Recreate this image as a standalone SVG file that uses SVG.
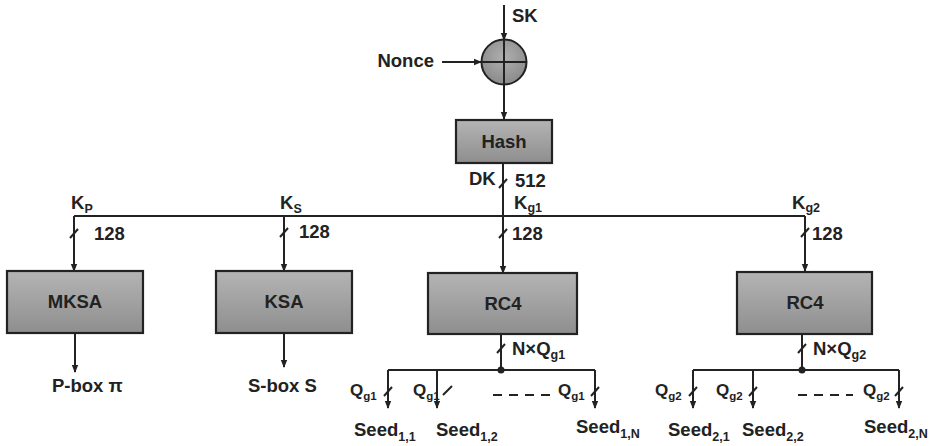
<svg xmlns="http://www.w3.org/2000/svg" width="936" height="446" viewBox="0 0 936 446">
<defs>
<linearGradient id="g" x1="0" y1="0" x2="0" y2="1">
<stop offset="0" stop-color="#b4b4b4"/>
<stop offset="1" stop-color="#8e8e8e"/>
</linearGradient>
<radialGradient id="cg" cx="0.5" cy="0.4" r="0.6">
<stop offset="0" stop-color="#b0b0b0"/>
<stop offset="1" stop-color="#8a8a8a"/>
</radialGradient>
<marker id="ah" markerWidth="8" markerHeight="8" refX="7" refY="4" orient="auto" markerUnits="userSpaceOnUse">
<path d="M0,0.8 L8,4 L0,7.2 Z" fill="#222"/>
</marker>
</defs>
<style>
.box{fill:url(#g);stroke:#222;stroke-width:2.2}
.ln{stroke:#222;stroke-width:2;fill:none}
.ar{stroke:#222;stroke-width:2;fill:none;marker-end:url(#ah)}
.sl{stroke:#222;stroke-width:2;fill:none}
.t{font-family:"Liberation Sans",Arial,sans-serif;font-weight:bold;font-size:18.5px;fill:#222}
.bt{font-family:"Liberation Sans",Arial,sans-serif;font-weight:bold;font-size:18.5px;fill:#222;text-anchor:middle}
.q{font-family:"Liberation Sans",Arial,sans-serif;font-weight:bold;font-size:17px;fill:#222}
.sub{font-size:11.5px}
.subs{font-size:12.5px}
</style>
<rect width="936" height="446" fill="#fff"/>

<g id="connectors">
<line class="ar" x1="504" y1="5" x2="504" y2="40"/>
<line class="ar" x1="442" y1="62" x2="481" y2="62"/>
<line class="ar" x1="504" y1="84" x2="504" y2="119"/>
<line class="ln" x1="503" y1="163" x2="503" y2="216"/>
<line class="ln" x1="74" y1="216" x2="805" y2="216"/>
<line class="ar" x1="74" y1="216" x2="74" y2="271"/>
<line class="ar" x1="284" y1="216" x2="284" y2="271"/>
<line class="ar" x1="503" y1="216" x2="503" y2="273"/>
<line class="ar" x1="805" y1="216" x2="805" y2="271"/>
<line class="ar" x1="75" y1="333" x2="75" y2="372"/>
<line class="ar" x1="284" y1="333" x2="284" y2="367"/>
<line class="ln" x1="501" y1="334" x2="501" y2="370"/>
<line class="ln" x1="388" y1="370" x2="595" y2="370"/>
<circle cx="501" cy="370" r="3.5" fill="#222"/>
<line class="ar" x1="388" y1="370" x2="388" y2="408"/>
<line class="ar" x1="437" y1="370" x2="437" y2="408"/>
<line class="ar" x1="595" y1="370" x2="595" y2="408"/>
<line class="ln" x1="802" y1="334" x2="802" y2="370"/>
<line class="ln" x1="693" y1="370" x2="899" y2="370"/>
<circle cx="802" cy="370" r="3.5" fill="#222"/>
<line class="ar" x1="693" y1="370" x2="693" y2="408"/>
<line class="ar" x1="753" y1="370" x2="753" y2="408"/>
<line class="ar" x1="899" y1="370" x2="899" y2="408"/>
<line class="ln" x1="493" y1="395" x2="551" y2="395" stroke-dasharray="9,7"/>
<line class="ln" x1="798" y1="395" x2="853" y2="395" stroke-dasharray="9,7"/>
<line class="sl" x1="499" y1="188" x2="507" y2="179"/>
<line class="sl" x1="70" y1="238" x2="78" y2="229"/>
<line class="sl" x1="280" y1="237" x2="288" y2="228"/>
<line class="sl" x1="499" y1="238" x2="507" y2="229"/>
<line class="sl" x1="801" y1="237" x2="809" y2="228"/>
<line class="sl" x1="497" y1="353" x2="505" y2="344"/>
<line class="sl" x1="798" y1="353" x2="806" y2="344"/>
<line class="sl" x1="384" y1="396" x2="392" y2="387"/>
<line class="sl" x1="443" y1="395" x2="452" y2="386"/>
<line class="sl" x1="591" y1="396" x2="599" y2="387"/>
<line class="sl" x1="689" y1="396" x2="697" y2="387"/>
<line class="sl" x1="749" y1="396" x2="757" y2="387"/>
<line class="sl" x1="895" y1="396" x2="903" y2="387"/>
</g>

<g id="xor">
<circle cx="504" cy="62" r="22.5" fill="url(#cg)" stroke="#222" stroke-width="2"/>
<line class="ln" x1="481.5" y1="62" x2="526.5" y2="62"/>
<line class="ln" x1="504" y1="39.5" x2="504" y2="84.5"/>
</g>
<g id="hash"><rect class="box" x="456" y="120" width="96" height="43"/><text class="bt" x="504" y="148">Hash</text></g>
<g id="mksa"><rect class="box" x="7" y="271" width="136" height="62"/><text class="bt" x="75" y="308">MKSA</text></g>
<g id="ksa"><rect class="box" x="216" y="271" width="136" height="62"/><text class="bt" x="284" y="308">KSA</text></g>
<g id="rc4a"><rect class="box" x="428" y="273" width="149" height="61"/><text class="bt" x="503" y="310">RC4</text></g>
<g id="rc4b"><rect class="box" x="737" y="272" width="135" height="62"/><text class="bt" x="805" y="309">RC4</text></g>

<g id="labels">
<text class="t" x="512" y="22">SK</text>
<text class="t" x="434" y="67" text-anchor="end">Nonce</text>
<text class="t" x="469" y="185">DK</text>
<text class="t" x="515" y="187">512</text>
<text class="t" x="71" y="209">K<tspan class="subs" dy="4">P</tspan></text>
<text class="t" x="280" y="209">K<tspan class="subs" dy="4">S</tspan></text>
<text class="t" x="514" y="209">K<tspan class="subs" dy="3">g1</tspan></text>
<text class="t" x="792" y="209">K<tspan class="subs" dy="3">g2</tspan></text>
<text class="t" x="94" y="240">128</text>
<text class="t" x="299" y="238">128</text>
<text class="t" x="512" y="240">128</text>
<text class="t" x="812" y="240">128</text>
<text class="t" x="52" y="392">P-box π</text>
<text class="t" x="248" y="392">S-box S</text>
<text class="t" x="512" y="355">N×Q<tspan class="subs" dy="4">g1</tspan></text>
<text class="t" x="813" y="355">N×Q<tspan class="subs" dy="4">g2</tspan></text>
<text class="q" x="350" y="396">Q<tspan class="sub" dy="4">g1</tspan></text>
<text class="q" x="413" y="396">Q<tspan class="sub" dy="4">g1</tspan></text>
<text class="q" x="558" y="396">Q<tspan class="sub" dy="4">g1</tspan></text>
<text class="q" x="655" y="396">Q<tspan class="sub" dy="4">g2</tspan></text>
<text class="q" x="716" y="396">Q<tspan class="sub" dy="4">g2</tspan></text>
<text class="q" x="863" y="396">Q<tspan class="sub" dy="4">g2</tspan></text>
<text class="t" x="354" y="436">Seed<tspan class="subs" dy="5">1,1</tspan></text>
<text class="t" x="436" y="436">Seed<tspan class="subs" dy="5">1,2</tspan></text>
<text class="t" x="576" y="433">Seed<tspan class="subs" dy="5">1,N</tspan></text>
<text class="t" x="668" y="436">Seed<tspan class="subs" dy="5">2,1</tspan></text>
<text class="t" x="742" y="436">Seed<tspan class="subs" dy="5">2,2</tspan></text>
<text class="t" x="864" y="433">Seed<tspan class="subs" dy="5">2,N</tspan></text>
</g>
</svg>
